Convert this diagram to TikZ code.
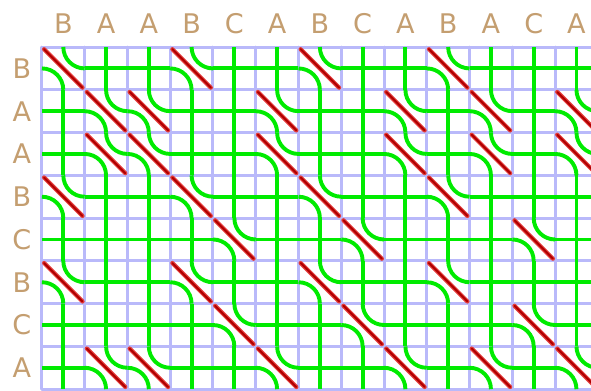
\documentclass[tikz,border=0pt]{standalone}
\usepackage{fontspec}
\setmainfont{DejaVu Sans}
\definecolor{labeltan}{RGB}{196,158,112}
\definecolor{gridblue}{RGB}{185,185,250}
\definecolor{strandgreen}{RGB}{0,235,0}
\definecolor{matchred}{RGB}{228,60,60}
\definecolor{matchdark}{RGB}{175,0,0}
\begin{document}
\begin{tikzpicture}[x=1cm, y=-1cm, line cap=round, line join=round,
  gridline/.style={draw=gridblue, line width=2pt},
  strand/.style={draw=strandgreen, line width=2.6pt, line cap=butt},
  letter/.style={text=labeltan, font=\fontsize{18}{20}\selectfont, inner sep=0pt}]
  \useasboundingbox (-0.98,-1.1) rectangle (12.84,8.02);
  \clip (-0.98,-1.1) rectangle (12.84,8.02);
  \draw[gridline] (0,0) grid (13,8);
  % top word
  \foreach \colchar [count=\i from 0] in {B,A,A,B,C,A,B,C,A,B,A,C,A}
    \node[letter] (c\i) at (\i+0.5,-0.54) {\colchar};
  % side word and the cells
  \foreach \rowchar [count=\j from 0] in {B,A,A,B,C,B,C,A} {
    \node[letter] (r\j) at (-0.47,\j+0.5) {\rowchar};
    \foreach \colchar [count=\i from 0] in {B,A,A,B,C,A,B,C,A,B,A,C,A} {
      \edef\ca{\colchar}\edef\cb{\rowchar}
      \ifx\ca\cb
        \draw[strand] (\i+0.5,\j) .. controls (\i+0.5,\j+0.276) and (\i+0.724,\j+0.5) .. (\i+1,\j+0.5);
        \draw[strand] (\i,\j+0.5) .. controls (\i+0.276,\j+0.5) and (\i+0.5,\j+0.724) .. (\i+0.5,\j+1);
        \draw[matchred, line width=2.8pt] (\i+0.05,\j+0.05) -- (\i+0.95,\j+0.95);
        \draw[matchdark, line width=1.3pt] (\i+0.05,\j+0.05) -- (\i+0.95,\j+0.95);
      \else
        \draw[strand] (\i+0.5,\j) -- (\i+0.5,\j+1);
        \draw[strand] (\i,\j+0.5) -- (\i+1,\j+0.5);
      \fi
    }
  }
\end{tikzpicture}
\end{document}
